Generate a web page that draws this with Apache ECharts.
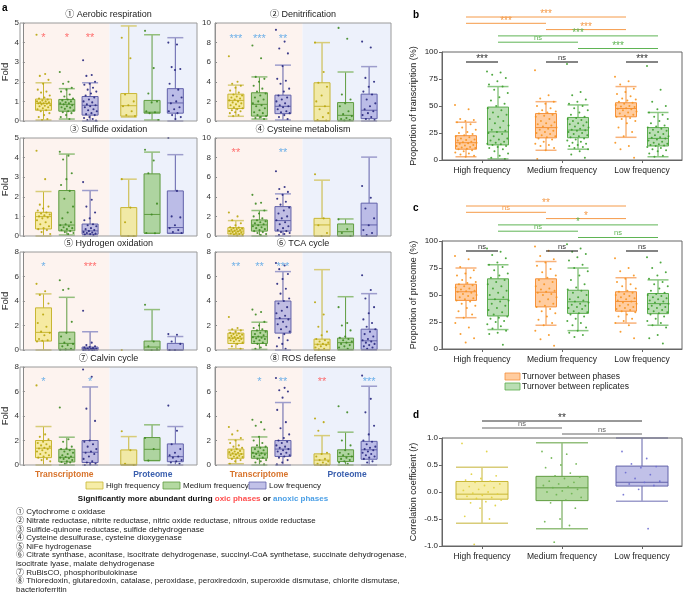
<!DOCTYPE html>
<html><head><meta charset="utf-8">
<script src="https://cdn.jsdelivr.net/npm/echarts@6/dist/echarts.min.js"></script>
<style>html,body{margin:0;padding:0;background:#fff}#c{width:685px;height:593px}</style>
</head><body><div id="c"></div><script>
// ---------------- DATA ----------------
const aTitles = ['① Aerobic respiration','② Denitrification','③ Sulfide oxidation','④ Cysteine metabolism','⑤ Hydrogen oxidation','⑥ TCA cycle','⑦ Calvin cycle','⑧ ROS defense'];
const aYMax = [5,10,5,10,8,8,8,8];
const aYStep = [1,2,1,2,2,2,2,2];
const omicsNames = ['Transcriptome','Proteome'];
const freqNames = ['High frequency','Medium frequency','Low frequency'];
// boxes: [whiskerLow, Q1, median, Q3, whiskerHigh]; order T-High,T-Med,T-Low,P-High,P-Med,P-Low
const aerobicBoxes = [[0.05,0.55,0.9,1.12,1.95],[0.1,0.5,0.85,1.1,1.65],[0,0.3,0.8,1.25,1.95],[0.2,0.25,0.78,1.4,4.85],[0.05,0.4,0.45,1.05,4.4],[0,0.4,0.92,1.65,4.25]];
const aerobicPoints = [
 [4.4,2.4,2.3,2.1,1.9,1.6,1.5,1.45,1.3,1.2,1.15,1.1,1.05,1.0,1.0,0.95,0.95,0.9,0.9,0.88,0.85,0.8,0.78,0.75,0.7,0.65,0.6,0.55,0.5,0.4,0.3,0.2,0.1,0.05],
 [2.5,2.0,1.9,1.7,1.6,1.5,1.35,1.25,1.15,1.1,1.05,1.0,0.95,0.9,0.9,0.85,0.8,0.75,0.7,0.68,0.62,0.55,0.5,0.45,0.4,0.3,0.2,0.1],
 [3.1,2.35,2.3,2.0,1.9,1.85,1.7,1.6,1.5,1.4,1.3,1.2,1.1,1.0,0.95,0.85,0.8,0.75,0.7,0.6,0.55,0.5,0.4,0.35,0.3,0.2,0.15,0.1,0.05,0.02],
 [4.25,3.2,1.35,1.0,0.8,0.75,0.5,0.3,0.25],
 [4.6,2.7,1.4,1.0,0.95,0.5,0.45,0.4,0.05],
 [4.0,3.9,2.75,2.65,2.6,1.9,1.6,1.3,1.2,1.0,0.9,0.7,0.6,0.5,0.4,0.3,0.2,0.1]];
const denitBoxes = [[0.48,1.27,2.1,2.74,3.66],[0.2,0.5,1.7,2.88,4.5],[0.1,0.75,1.5,2.64,5.7],[0,0.05,1.5,3.9,8.0],[0,0.07,0.58,1.88,5.0],[0,0.24,1.1,2.74,5.55]];
const denitPoints = [
 [6.6,4.0,3.8,3.6,3.4,3.1,2.9,2.7,2.6,2.5,2.4,2.3,2.2,2.1,2.0,1.9,1.8,1.7,1.6,1.5,1.4,1.3,1.2,1.1,1.0,0.9,0.8,0.6,0.5],
 [7.7,6.4,4.5,4.3,4.0,3.6,3.3,3.0,2.8,2.6,2.4,2.2,2.0,1.8,1.6,1.5,1.3,1.1,0.9,0.8,0.6,0.5,0.4,0.3,0.2],
 [9.3,8.1,7.4,6.9,5.6,4.3,4.1,3.8,3.3,3.0,2.6,2.4,2.2,2.0,1.8,1.6,1.5,1.4,1.2,1.0,0.9,0.8,0.6,0.4,0.2],
 [8.0,5.0,3.9,3.5,2.6,2.0,1.5,1.2,0.8,0.4,0.1,0.05],
 [9.5,8.4,2.7,2.2,1.8,1.5,1.0,0.7,0.5,0.3,0.2,0.1,0.05],
 [8.1,7.5,4.4,4.0,3.5,3.0,2.7,2.2,1.8,1.5,1.2,1.0,0.8,0.6,0.4,0.2,0.1]];
const sulfideBoxes = [[0,0.36,0.99,1.21,2.27],[0.05,0.26,0.56,2.32,4.18],[0,0.09,0.26,0.61,2.32],[0,0,0,1.45,2.9],[0.14,0.14,1.1,3.17,4.28],[0.14,0.14,0.43,2.3,4.15]];
const sulfidePoints = [
 [4.35,2.9,1.6,1.5,1.4,1.3,1.2,1.15,1.1,1.05,1.0,0.95,0.9,0.8,0.7,0.6,0.5,0.4,0.35,0.3,0.2,0.1],
 [4.3,4.1,3.9,3.2,2.9,2.6,2.3,1.9,1.5,1.2,0.9,0.7,0.6,0.55,0.5,0.45,0.4,0.35,0.3,0.25,0.2,0.15,0.1],
 [2.75,1.85,1.5,1.2,0.9,0.8,0.6,0.55,0.5,0.4,0.35,0.3,0.25,0.2,0.18,0.15,0.12,0.1,0.08,0.05],
 [2.9,1.45,0.7,0,0],
 [4.4,3.85,3.2,1.65,1.1,0.15,0.14],
 [5.0,2.3,1.0,0.95,0.55,0.4,0.3,0.2,0.15]];
const cysteineBoxes = [[0,0.2,0.5,0.85,1.57],[0,0.5,1.13,1.64,2.6],[0,0.5,1.57,3.0,4.3],[0,0,1.13,1.8,5.7],[0,0,0.44,1.23,1.74],[0,0,1.13,3.35,8.05]];
const cysteinePoints = [
 [2.4,2.0,1.6,1.3,1.1,0.9,0.85,0.8,0.75,0.7,0.65,0.6,0.55,0.5,0.45,0.4,0.35,0.3,0.25,0.2,0.15,0.1,0.05],
 [4.2,3.4,3.3,2.6,2.3,2.0,1.8,1.6,1.5,1.4,1.3,1.2,1.1,1.0,0.9,0.8,0.7,0.6,0.5,0.4,0.3,0.2,0.1],
 [6.6,5.0,4.8,4.5,4.2,3.8,3.5,3.2,2.9,2.6,2.3,2.0,1.8,1.6,1.4,1.2,1.0,0.8,0.6,0.5,0.4,0.3,0.2,0.1],
 [6.3,1.8,1.1,0.3,0],
 [1.7,0.7,0.3,0],
 [5.1,3.9,2.8,1.8,1.1,0.6,0.3,0.1]];
const hydrogenBoxes = [[0,0.73,1.44,3.44,4.58],[0,0.05,0.54,1.46,4.3],[0,0,0.1,0.24,1.49],null,[0,0,0.24,0.73,3.3],[0,0,0,0.54,1.1]];
const hydrogenPoints = [
 [5.4,4.8,4.5,3.8,2.9,2.2,1.9,1.5,1.4,1.2,0.9,0.8,0.75,0.7],
 [5.7,5.0,4.9,2.3,1.4,1.1,0.9,0.6,0.5,0.4,0.3,0.1,0.05,0.02],
 [3.2,0.6,0.4,0.3,0.25,0.2,0.15,0.12,0.1,0.08,0.05,0.03,0.02,0.01,0],
 [0],
 [3.7,0.7,0.3,0.05,0],
 [1.3,1.25,0.7,0.5,0,0]];
const tcaBoxes = [[0.1,0.53,0.97,1.38,1.63],[0.05,0.53,1.08,1.58,2.27],[0,1.38,2.55,4.0,6.4],[0,0.02,0.47,0.89,6.56],[0,0.05,0.6,0.97,4.35],[0,0.05,0.75,1.7,4.6]];
const tcaPoints = [
 [2.7,1.8,1.7,1.6,1.5,1.4,1.35,1.3,1.25,1.2,1.15,1.1,1.05,1.0,0.98,0.95,0.9,0.85,0.8,0.75,0.7,0.6,0.5,0.3,0.1],
 [3.3,3.1,2.9,2.3,2.0,1.8,1.7,1.6,1.5,1.4,1.3,1.2,1.1,1.05,1.0,0.95,0.9,0.8,0.7,0.6,0.5,0.4,0.2,0.1],
 [7.1,6.9,6.6,6.2,5.8,5.4,5.0,4.6,4.2,4.0,3.8,3.5,3.2,3.0,2.8,2.6,2.5,2.3,2.1,1.9,1.7,1.5,1.3,1.0,0.8,0.5,0.3,0.1],
 [3.9,2.9,1.9,1.5,1.2,0.9,0.8,0.7,0.6,0.5,0.45,0.4,0.3,0.2,0.1,0.05],
 [3.5,2.2,2.0,1.6,1.1,1.0,0.9,0.8,0.7,0.6,0.5,0.4,0.3,0.2,0.1],
 [6.1,4.9,4.2,3.5,3.0,2.5,2.2,1.9,1.7,1.5,1.3,1.1,0.9,0.8,0.7,0.6,0.5,0.4,0.3,0.2,0.1]];
const calvinBoxes = [[0,0.6,1.37,2.0,3.14],[0,0.25,0.63,1.28,2.27],[0,0.2,1.04,2.0,6.37],[0,0,0.05,1.23,2.32],[0.36,0.36,1.28,2.24,3.28],[0,0.27,0.68,1.72,3.14]];
const calvinPoints = [
 [6.5,2.5,2.3,2.1,1.9,1.8,1.7,1.6,1.5,1.4,1.35,1.3,1.2,1.1,1.0,0.9,0.8,0.7,0.6,0.5,0.4,0.3],
 [4.7,2.1,1.9,1.5,1.35,1.3,1.2,1.1,1.0,0.9,0.8,0.7,0.65,0.6,0.55,0.5,0.4,0.3,0.25,0.2,0.1],
 [7.8,7.2,4.6,3.6,2.0,1.9,1.7,1.5,1.3,1.1,1.0,0.9,0.7,0.5,0.3,0.2,0.1,0.05,0],
 [2.75,1.2,0.1,0],
 [2.2,1.3,0.36],
 [4.85,2.8,1.7,1.3,1.0,0.8,0.7,0.6,0.4,0.3,0.2,0.1]];
const rosBoxes = [[0.1,0.55,0.9,1.3,2.07],[0,0.55,0.97,1.46,2.29],[0,0.7,1.3,2.0,5.1],[0,0,0.4,0.91,2.4],[0,0.28,0.7,1.24,2.68],[0,0.47,1.24,1.93,6.43]];
const rosPoints = [
 [3.1,2.8,2.5,2.2,2.0,1.8,1.6,1.5,1.4,1.3,1.2,1.15,1.1,1.05,1.0,0.95,0.9,0.85,0.8,0.75,0.7,0.65,0.6,0.5,0.4,0.3,0.1],
 [3.7,3.5,3.2,2.9,2.3,2.0,1.8,1.6,1.5,1.4,1.3,1.2,1.1,1.0,0.95,0.9,0.85,0.8,0.7,0.6,0.5,0.4,0.3,0.2,0.05],
 [7.1,6.3,6.1,6.0,5.5,4.5,3.5,3.0,2.5,2.2,2.0,1.9,1.8,1.6,1.5,1.4,1.3,1.2,1.1,1.0,0.9,0.8,0.7,0.6,0.4,0.2,0.05],
 [3.8,3.5,2.8,1.0,0.9,0.7,0.5,0.4,0.3,0.2,0.1,0.05,0],
 [4.8,4.3,2.0,1.6,1.2,1.0,0.9,0.8,0.7,0.6,0.5,0.4,0.3,0.2,0.1],
 [7.3,5.4,4.3,3.2,2.5,2.0,1.9,1.7,1.5,1.4,1.3,1.2,1.1,1.0,0.9,0.8,0.7,0.6,0.5,0.3,0.2]];
// significance stars: [box index, y value, text, 0 = oxic / 1 = anoxic]
const aerobicStars = [[0,4.25,'*',0],[1,4.25,'*',0],[2,4.25,'**',0]];
const denitStars = [[0,8.4,'***',1],[1,8.4,'***',1],[2,8.4,'**',1]];
const sulfideStars = [];
const cysteineStars = [[0,8.5,'**',0],[2,8.5,'**',1]];
const hydrogenStars = [[0,6.8,'*',1],[2,6.8,'***',0]];
const tcaStars = [[0,6.8,'**',1],[1,6.8,'**',1],[2,6.8,'***',1]];
const calvinStars = [[0,6.8,'*',1],[2,6.8,'*',1]];
const rosStars = [[1,6.8,'*',1],[2,6.8,'**',1],[3,6.8,'**',0],[5,6.8,'***',1]];
const enzymeNotes = [
 '① Cytochrome c oxidase',
 '② Nitrate reductase, nitrite reductase, nitric oxide reductase, nitrous oxide reductase',
 '③ Sulfide-quinone reductase, sulfide dehydrogenase',
 '④ Cysteine desulfurase, cysteine dioxygenase',
 '⑤ NiFe hydrogenase',
 '⑥ Citrate synthase, aconitase, isocitrate dehydrogenase, succinyl-CoA synthetase, succinate dehydrogenase,',
 'isocitrate lyase, malate dehydrogenase',
 '⑦ RuBisCO, phosphoribulokinase',
 '⑧ Thioredoxin, glutaredoxin, catalase, peroxidase, peroxiredoxin, superoxide dismutase, chlorite dismutase,',
 'bacterioferritin'];
// panel b: proportion of transcription (%), per frequency [phases, replicates]
const turnoverNames = ['Turnover between phases','Turnover between replicates'];
const transPhaseBoxes = [[3,10,16,22.5,35],[9,20.5,30,43,54],[21,40,47.7,53,68]];
const transReplBoxes = [[1,14,26,49,68],[10,20.6,27.7,39.4,51],[3,13,20,30,44]];
const transPhasePoints = [
 [51,47,38,37,36,35,33,30,28,26,25,24,23,22,21,20,19,18.5,18,17,16.5,16,15.5,15,14,13.5,13,12,11.5,11,10.5,10,9,8,7,6,5,4,3],
 [83,60,57,54,52,50,48,46,45,44,43,42,41,40,38,36,35,34,33,32,31,30,29,28,27,26,25,24,23,22,21,20,19,17,15,14,13,11,9,1],
 [77,73,70,66,63,61,59,57,56,55,54,53,52,51,50,49.5,49,48,47.5,47,46,45,44,43,42,41,40,39,38,36,34,30,26,22,16,13,10,2]];
const transReplPoints = [
 [82,81,79,76,73,70,68,65,62,58,55,52,50,48,46,44,42,40,38,36,34,32,30,28,27,26,25,24,22,20,19,18,17,16,15,14.5,14,13,12,11,10,8,6,4,2,1],
 [89,63,60,56,54,52,50,48,46,44,42,40,39,38,37,36,35,34,33,32,31,30,29,28,27.5,27,26,25,24,23,22,21,20,19,18,17,16,15,14,13,12,11,10,8,5,2],
 [87,65,54,50,47,44,42,40,38,36,34,32,31,30,29,28,27,26,25,24,23,22,21,20.5,20,19,18,17,16,15,14.5,14,13.5,13,12,11,10,9,8,6,4,3]];
// significance: [from freq, to freq, 0 = phases / 1 = replicates, label]
const transSig = [[0,2,0,'***'],[0,1,0,'***'],[1,2,0,'***'],[0,2,1,'***'],[0,1,1,'ns'],[1,2,1,'***']];
const transPairSig = ['***','ns','***'];
// panel c: proportion of proteome (%)
const protPhaseBoxes = [[29,45,53,60,75],[22,39,52.6,65,81],[24,35,44,53,66]];
const protReplBoxes = [[18,30.6,46,65,78],[17,33,43.7,54.4,75],[22,32.7,42,51.4,64]];
const protPhasePoints = [
 [86,83,76,73,70,68,66,64,62,61,60,59,58,57,56,55,54,53.5,53,52,51,50,49,48,47,46,45,44,42,40,38,35,32,29,24,20,14,10,6],
 [95,91,86,83,80,77,74,71,68,66,64,62,60,58,56,55,54,53,52,51,50,48,46,44,42,40,39,37,35,33,30,27,24,22,17,13,9,3],
 [84,75,72,68,65,62,60,58,56,54,53,52,51,50,49,48,47,46,45,44,43,42,41,40,39,38,37,36,35,34,32,30,28,26,24,22,16,10]];
const protReplPoints = [
 [93,90,87,84,80,78,76,73,70,68,66,64,62,60,58,56,54,52,50,48,46,45,44,42,40,38,36,34,32,30,29,28,26,25,23,21,19,17,15,14,4],
 [97,93,90,88,85,82,78,75,72,68,64,60,57,55,54,52,50,48,46,45,44,43,42,41,40,39,38,37,35,34,33,32,30,28,26,24,22,20,17,15,13,11],
 [85,80,75,71,68,65,62,60,58,56,54,52,51,50,49,48,47,46,45,44,43,42,41,40,39,38,37,36,35,34,33,32,30,28,26,24,22,20,13,10,5]];
const protSig = [[0,2,0,'**'],[0,1,0,'ns'],[1,2,0,'*'],[0,2,1,'*'],[0,1,1,'ns'],[1,2,1,'ns']];
const protPairSig = ['ns','ns','ns'];
// panel d: correlation coefficient
const corrBoxes = [[-0.58,-0.133,-0.04,0.195,0.46],[-0.68,-0.16,0.077,0.29,0.91],[-0.17,0.11,0.18,0.48,1.0]];
const corrPoints = [
 [0.9,0.75,0.33,0.3,0.25,0.22,0.2,0.18,0.15,0.12,0.1,0.08,0.05,0.03,0.0,-0.02,-0.04,-0.06,-0.08,-0.1,-0.12,-0.15,-0.18,-0.2,-0.25,-0.3,-0.45,-0.5,-0.97],
 [0.75,0.7,0.63,0.52,0.5,0.45,0.35,0.3,0.28,0.25,0.2,0.18,0.15,0.12,0.1,0.08,0.05,0.02,0.0,-0.03,-0.05,-0.1,-0.15,-0.2,-0.3,-0.5,-0.55,-0.62,-0.93],
 [0.75,0.62,0.52,0.47,0.45,0.36,0.32,0.25,0.2,0.18,0.15,0.12,0.05,-0.05,-0.68]];
const corrSig = [[0,2,'**'],[0,1,'ns'],[1,2,'ns']];

// ---------------- CHART ----------------
const FONT = "'Liberation Sans', Arial, 'Noto Sans CJK SC', sans-serif";
const chart = echarts.init(document.getElementById('c'), null, {renderer:'canvas'});
const palA = [
  {fill:'rgba(242,230,130,0.7)', stroke:'#c8b634', cap:'#d8cc78', pt:'#b9a60c'},
  {fill:'rgba(140,196,110,0.65)', stroke:'#5f9c40', cap:'#93bf7c', pt:'#3e8a22'},
  {fill:'rgba(160,160,220,0.65)', stroke:'#6262aa', cap:'#9d9dcc', pt:'#27277e'}];
const palB = [
  {fill:'rgba(255,170,95,0.6)', stroke:'#f5913a', cap:'#f8b27a', pt:'#f7931e'},
  {fill:'rgba(140,200,130,0.6)', stroke:'#5aac4c', cap:'#8cc883', pt:'#3d9e2e'}];
const jit = i => ((i * 0.6180339887) % 1) - 0.5;
const slotX = i => i + (i >= 3 ? 0.66 : 0);
const grids = [], xAxes = [], yAxes = [], series = [], graphics = [];

function boxSeries(ai, items, pal, bw) {
  return {type:'custom', xAxisIndex:ai, yAxisIndex:ai, data:items, z:3, silent:true,
    encode:{x:0, y:[1,2,3,4,5]},
    renderItem(params, api) {
      const x = api.value(0), c = pal[api.value(6)], off = api.value(7), h = bw/2;
      const y = k => api.coord([x, api.value(k)])[1];
      const cx = api.coord([x, api.value(3)])[0] + off;
      const lo = y(1), q1 = y(2), md = y(3), q3 = y(4), hi = y(5);
      return {type:'group', children:[
        {type:'line', shape:{x1:cx,y1:hi,x2:cx,y2:q3}, style:{stroke:c.stroke,lineWidth:1}},
        {type:'line', shape:{x1:cx,y1:q1,x2:cx,y2:lo}, style:{stroke:c.stroke,lineWidth:1}},
        {type:'line', shape:{x1:cx-h,y1:hi,x2:cx+h,y2:hi}, style:{stroke:c.cap,lineWidth:1.5}},
        {type:'line', shape:{x1:cx-h,y1:lo,x2:cx+h,y2:lo}, style:{stroke:c.cap,lineWidth:1.5}},
        {type:'rect', shape:{x:cx-h,y:q3,width:bw,height:Math.max(q1-q3,0.5)}, style:{fill:c.fill,stroke:c.stroke,lineWidth:1}},
        {type:'line', shape:{x1:cx-h,y1:md,x2:cx+h,y2:md}, style:{stroke:c.stroke,lineWidth:1}}
      ]};
    }};
}
function pointSeries(ai, items, pal, jw, r) {
  return {type:'custom', xAxisIndex:ai, yAxisIndex:ai, data:items, z:4, silent:true,
    encode:{x:0, y:1},
    renderItem(params, api) {
      const p = api.coord([api.value(0), api.value(1)]);
      return {type:'circle', shape:{cx:p[0] + api.value(3) + api.value(4)*jw, cy:p[1], r:r},
        style:{fill:pal[api.value(2)].pt, opacity:0.9}};
    }};
}
function txt(x, y, text, size, color, opt) {
  opt = opt || {};
  return {type:'text', x:x, y:y, z:50, silent:true, rotation:opt.rot || 0,
    style:Object.assign({text:text, fill:color, font:(opt.bold?'bold ':'') + size + 'px ' + FONT,
      align:opt.align || 'center', verticalAlign:opt.va || 'middle'}, opt.rich ? {rich:opt.rich} : {})};
}

// ---- panel a ----
const aBoxes = [aerobicBoxes, denitBoxes, sulfideBoxes, cysteineBoxes, hydrogenBoxes, tcaBoxes, calvinBoxes, rosBoxes];
const aPoints = [aerobicPoints, denitPoints, sulfidePoints, cysteinePoints, hydrogenPoints, tcaPoints, calvinPoints, rosPoints];
const aStars = [aerobicStars, denitStars, sulfideStars, cysteineStars, hydrogenStars, tcaStars, calvinStars, rosStars];
const aTops = [23,138,252,367], aLefts = [20,215], aWidths = [177,176], aH = 98;
const X_MIN = -0.887, X_MAX = 6.59, X_SPLIT = 2.83;
for (let k = 0; k < 8; k++) {
  const col = k % 2, row = Math.floor(k / 2);
  const L = aLefts[col], T = aTops[row], W = aWidths[col];
  grids.push({left:L, top:T, width:W, height:aH});
  xAxes.push({gridIndex:k, type:'value', min:X_MIN, max:X_MAX, show:false});
  yAxes.push({gridIndex:k, type:'value', min:0, max:aYMax[k], interval:aYStep[k], z:6,
    axisLine:{show:true, onZero:false, lineStyle:{color:'#888', width:1}},
    axisTick:{show:true, inside:true, length:2, lineStyle:{color:'#888'}},
    axisLabel:{fontSize:8, color:'#333', margin:4, fontFamily:FONT},
    splitLine:{show:false},
    name: col === 0 ? 'Fold' : '', nameLocation:'middle', nameGap:12,
    nameTextStyle:{fontSize:9.5, color:'#222', fontFamily:FONT}});
  series.push({type:'custom', xAxisIndex:k, yAxisIndex:k, z:0, silent:true, data:[[X_SPLIT, 0]],
    renderItem(params, api) {
      const cs = params.coordSys, sx = api.coord([api.value(0), 0])[0];
      return {type:'group', children:[
        {type:'rect', shape:{x:cs.x, y:cs.y, width:sx - cs.x, height:cs.height}, style:{fill:'#fdf3ef'}},
        {type:'rect', shape:{x:sx, y:cs.y, width:cs.x + cs.width - sx, height:cs.height}, style:{fill:'#edf1fb'}}]};
    }});
  const bItems = [], pItems = [];
  aBoxes[k].forEach((b, i) => { if (b) bItems.push([slotX(i), ...b, i % 3, 0]); });
  aPoints[k].forEach((arr, i) => arr.forEach((v, j) => pItems.push([slotX(i), v, i % 3, 0, jit(j)])));
  series.push(boxSeries(k, bItems, palA, 16));
  series.push(pointSeries(k, pItems, palA, 14, 1.05));
  series.push({type:'scatter', xAxisIndex:k, yAxisIndex:k, symbolSize:0, silent:true, z:6,
    data: aStars[k].map(s => ({value:[slotX(s[0]), s[1]], name:s[2],
      label:{color: s[3] === 0 ? '#ff4d4d' : '#4a9fe6'}})),
    label:{show:true, position:'inside', formatter:'{b}', fontSize:11, fontFamily:FONT}});
  graphics.push({type:'rect', shape:{x:L, y:T, width:W, height:aH}, z:40, silent:true,
    style:{fill:null, stroke:'#9a9a9a', lineWidth:1}});
  graphics.push(txt(L + W/2, T - 8, aTitles[k], 9, '#222'));
  if (row === 3) {
    graphics.push(txt(L + W*0.25, T + aH + 10, omicsNames[0], 8.5, '#d8742c', {bold:true}));
    graphics.push(txt(L + W*0.75, T + aH + 10, omicsNames[1], 8.5, '#3a5fae', {bold:true}));
  }
}
graphics.push(txt(2, 8, 'a', 10, '#000', {bold:true, align:'left'}));
// legend a
const legAX = [86, 163, 249];
freqNames.forEach((n, i) => {
  graphics.push({type:'rect', shape:{x:legAX[i], y:482, width:17, height:7}, z:50, silent:true,
    style:{fill:palA[i].fill, stroke:palA[i].stroke, lineWidth:0.8}});
  graphics.push(txt(legAX[i] + 20, 486, n, 8, '#222', {align:'left'}));
});
graphics.push(txt(203, 499, '{b|Significantly more abundant during }{r|oxic phases}{b| or }{a|anoxic phases}', 8, '#111',
  {rich:{b:{font:'bold 8px ' + FONT, fill:'#111'}, r:{font:'bold 8px ' + FONT, fill:'#ff4d4d'}, a:{font:'bold 8px ' + FONT, fill:'#4a9fe6'}}}));
enzymeNotes.forEach((t, i) => graphics.push(txt(16, 512 + i*8.65, t, 8, '#222', {align:'left'})));

// ---- panels b, c, d ----
const catAxis = (gi) => ({gridIndex:gi, type:'category', data:freqNames, z:6,
  axisLine:{show:true, onZero:false, lineStyle:{color:'#666'}}, axisTick:{show:true, alignWithLabel:true, length:3, lineStyle:{color:'#666'}},
  axisLabel:{fontSize:8.5, color:'#222', margin:6, interval:0, fontFamily:FONT}});
const valAxis = (gi, min, max, step, name) => ({gridIndex:gi, type:'value', min:min, max:max, interval:step, z:6,
  axisLine:{show:true, onZero:false, lineStyle:{color:'#666'}}, axisTick:{show:true, length:3, lineStyle:{color:'#666'}},
  axisLabel:{fontSize:8, color:'#222', margin:4, fontFamily:FONT}, splitLine:{show:false},
  name:name, nameLocation:'middle', nameGap:24, nameTextStyle:{fontSize:9, color:'#222', fontFamily:FONT,
    rich:{i:{fontStyle:'italic', fontSize:9, fontFamily:FONT}}}});
const RG = [{top:52, name:'Proportion of transcription (%)', ph:transPhaseBoxes, rp:transReplBoxes, php:transPhasePoints, rpp:transReplPoints},
            {top:241, name:'Proportion of proteome (%)', ph:protPhaseBoxes, rp:protReplBoxes, php:protPhasePoints, rpp:protReplPoints}];
RG.forEach((g, n) => {
  const gi = 8 + n;
  grids.push({left:442, top:g.top, width:240, height:108});
  xAxes.push(catAxis(gi));
  yAxes.push(valAxis(gi, 0, 100, 25, g.name));
  const bItems = [], pItems = [];
  [g.ph, g.rp].forEach((arr, s) => arr.forEach((b, c) => bItems.push([c, ...b, s, s ? 16 : -16])));
  [g.php, g.rpp].forEach((arr, s) => arr.forEach((pts, c) => pts.forEach((v, j) => pItems.push([c, v, s, s ? 16 : -16, jit(j)]))));
  series.push(boxSeries(gi, bItems, palB, 21));
  series.push(pointSeries(gi, pItems, palB, 22, 1.0));
  graphics.push({type:'rect', shape:{x:442, y:g.top, width:240, height:108}, z:40, silent:true, style:{fill:null, stroke:'#666', lineWidth:1}});
});
grids.push({left:442, top:438, width:240, height:108});
xAxes.push(catAxis(10));
yAxes.push(valAxis(10, -1, 1, 0.5, 'Correlation coefficient ({i|r})'));
{
  const bItems = corrBoxes.map((b, c) => [c, ...b, c, 0]);
  const pItems = [];
  corrPoints.forEach((pts, c) => pts.forEach((v, j) => pItems.push([c, v, c, 0, jit(j)])));
  series.push(boxSeries(10, bItems, palA, 52));
  series.push(pointSeries(10, pItems, [{pt:'#e0cf3a'},{pt:'#6bb34e'},{pt:'#6d6dd0'}], 40, 0.9));
  graphics.push({type:'rect', shape:{x:442, y:438, width:240, height:108}, z:40, silent:true, style:{fill:null, stroke:'#666', lineWidth:1}});
}
yAxes[10].axisLabel.formatter = v => v.toFixed(1);
graphics.push(txt(413, 15, 'b', 10, '#000', {bold:true, align:'left'}));
graphics.push(txt(413, 208, 'c', 10, '#000', {bold:true, align:'left'}));
graphics.push(txt(413, 415, 'd', 10, '#000', {bold:true, align:'left'}));
// legend b/c
turnoverNames.forEach((n, s) => {
  graphics.push({type:'rect', shape:{x:505, y:373 + s*10, width:15, height:7}, z:50, silent:true,
    style:{fill:palB[s].fill, stroke:palB[s].stroke, lineWidth:0.8}});
  graphics.push(txt(522, 377 + s*10, n, 8.5, '#222', {align:'left'}));
});

chart.setOption({animation:false, backgroundColor:'#fff', grid:grids, xAxis:xAxes, yAxis:yAxes, series:series});

// significance brackets (x positions from the category axes)
const sigColors = ['#f59a48', '#5fb454'];
function px(ai, c) { return chart.convertToPixel({xAxisIndex:ai}, c); }
function bracket(x1, x2, y, label, color, lw) {
  const star = label.indexOf('*') >= 0;
  graphics.push({type:'line', shape:{x1:x1, y1:y, x2:x2, y2:y}, z:50, silent:true, style:{stroke:color, lineWidth:lw || 1}});
  graphics.push(txt((x1 + x2)/2, star ? y + 2.5 : y - 0.5, label, star ? 10 : 7.5, color, {va:'bottom'}));
}
[[transSig, transPairSig, 52, 8], [protSig, protPairSig, 241, 9]].forEach(([sig, pair, top, ai]) => {
  sig.forEach((s, i) => {
    const off = s[2] ? 16 : -16;
    bracket(px(ai, s[0]) + off, px(ai, s[1]) + off, top - 35 + i*6.3, s[3], sigColors[s[2]]);
  });
  pair.forEach((l, c) => bracket(px(ai, c) - 16, px(ai, c) + 16, top + 10, l, '#333', 1.2));
});
corrSig.forEach((s, i) => bracket(px(10, s[0]), px(10, s[1]), [421, 428, 434][i], s[2], i === 0 ? '#333' : '#666'));
chart.setOption({graphic:graphics});
</script></body></html>
